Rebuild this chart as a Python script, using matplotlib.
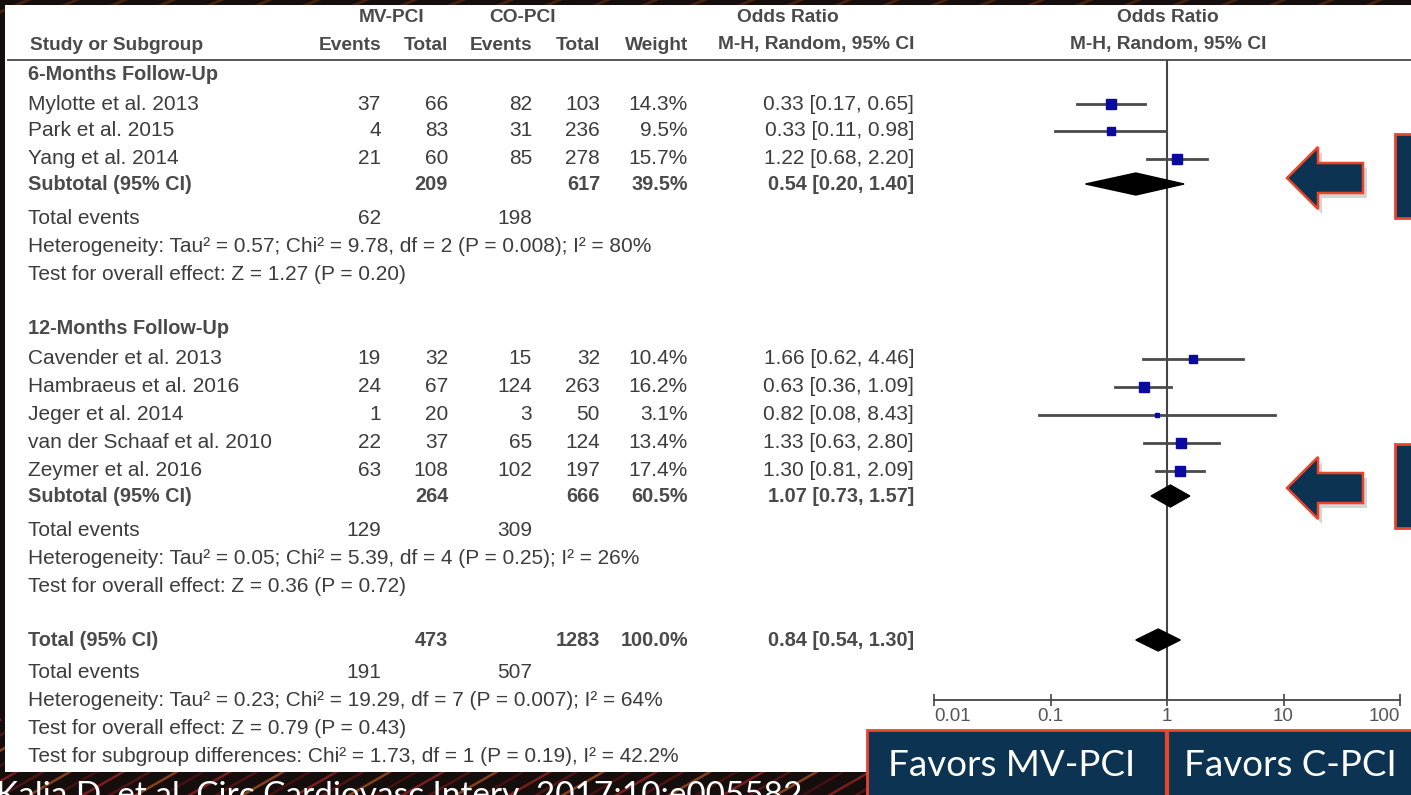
import numpy as np
import matplotlib.pyplot as plt
from matplotlib.patches import Rectangle, Polygon
from matplotlib.ticker import NullLocator

# ---- data ----
studies_6m = ["Mylotte et al. 2013", "Park et al. 2015", "Yang et al. 2014"]
mv_events_6m = [37, 4, 21]
mv_total_6m = [66, 83, 60]
co_events_6m = [82, 31, 85]
co_total_6m = [103, 236, 278]
weight_6m = [14.3, 9.5, 15.7]
or_6m = [0.33, 0.33, 1.22]
lo_6m = [0.17, 0.11, 0.68]
hi_6m = [0.65, 0.98, 2.20]

studies_12m = ["Cavender et al. 2013", "Hambraeus et al. 2016", "Jeger et al. 2014",
               "van der Schaaf et al. 2010", "Zeymer et al. 2016"]
mv_events_12m = [19, 24, 1, 22, 63]
mv_total_12m = [32, 67, 20, 37, 108]
co_events_12m = [15, 124, 3, 65, 102]
co_total_12m = [32, 263, 50, 124, 197]
weight_12m = [10.4, 16.2, 3.1, 13.4, 17.4]
or_12m = [1.66, 0.63, 0.82, 1.33, 1.30]
lo_12m = [0.62, 0.36, 0.08, 0.63, 0.81]
hi_12m = [4.46, 1.09, 8.43, 2.80, 2.09]

# pooled: (mv total, co total, weight, OR, lo, hi, mv events, co events)
pooled_6m = [209, 617, 39.5, 0.54, 0.20, 1.40, 62, 198]
pooled_12m = [264, 666, 60.5, 1.07, 0.73, 1.57, 129, 309]
pooled_all = [473, 1283, 100.0, 0.84, 0.54, 1.30, 191, 507]

notes_6m = ["Heterogeneity: Tau² = 0.57; Chi² = 9.78, df = 2 (P = 0.008); I² = 80%",
            "Test for overall effect: Z = 1.27 (P = 0.20)"]
notes_12m = ["Heterogeneity: Tau² = 0.05; Chi² = 5.39, df = 4 (P = 0.25); I² = 26%",
             "Test for overall effect: Z = 0.36 (P = 0.72)"]
notes_all = ["Heterogeneity: Tau² = 0.23; Chi² = 19.29, df = 7 (P = 0.007); I² = 64%",
             "Test for overall effect: Z = 0.79 (P = 0.43)",
             "Test for subgroup differences: Chi² = 1.73, df = 1 (P = 0.19), I² = 42.2%"]

tick_values = [0.01, 0.1, 1, 10, 100]
tick_labels = ["0.01", "0.1", "1", "10", "100"]

# ---- layout (pixels) ----
W, H = 1411, 795
row_y_6m = [75, 104, 131, 159, 184, 218, 246, 274]
row_y_12m = [329, 359, 387, 415, 443, 471, 496, 530, 558, 586]
row_y_all = [640, 672, 701, 729, 757]
col_name = 28
col_ev1, col_tot1, col_ev2, col_tot2, col_wt, col_or = 381, 448, 532, 600, 688, 914
fx0, fx1, fy0, fy1 = 934, 1400, 60, 700

TXT = '#3c3c3c'
HDR = '#4a4a4a'
NAVY = '#0c3452'
RED = '#e8452a'
FS = 15        # body rows
FS_B = 14.3    # bold subgroup / subtotal rows
FS_H = 13.8    # column headers
plt.rcParams['font.family'] = ['Liberation Sans', 'DejaVu Sans']

fig = plt.figure(figsize=(W / 100, H / 100), dpi=100)
bg = fig.add_axes([0, 0, 1, 1])
bg.set_xlim(0, W)
bg.set_ylim(H, 0)
bg.axis('off')

# dark slide background with a few streaks
bg.add_patch(Rectangle((0, 0), W, H, fc='#160d0d', ec='none', zorder=0))
for k, x0 in enumerate(np.linspace(-200, 1000, 46)):
    col = ['#8a2222', '#5a1616', '#9a4a22', '#4a1212'][k % 4]
    bg.plot([x0, x0 + 200], [H + 40, 720], color=col, lw=1.8, alpha=0.85, zorder=0.5)
for k, x0 in enumerate(np.linspace(0, 1400, 30)):
    bg.plot([x0, x0 + 40], [12, -5], color='#5a2a10', lw=2, alpha=0.7, zorder=0.5)

# white panel
bg.add_patch(Rectangle((5, 5), W - 5, 767, fc='white', ec='none', zorder=1))
bg.plot([8, W], [fy0, fy0], color='#555555', lw=1.4, zorder=2)


def txt(x, y, s, ha='right', bold=False, color=TXT, size=FS):
    bg.text(x, y, s, ha=ha, va='center', fontsize=size, color=color,
            fontweight='bold' if bold else 'normal', zorder=3)


def btxt(x, y, s, ha='right'):
    txt(x, y, s, ha=ha, bold=True, color=HDR, size=FS_B)


def htxt(x, y, s, ha='right'):
    txt(x, y, s, ha=ha, bold=True, color=HDR, size=FS_H)


# headers
htxt(392, 17, "MV-PCI", ha='center')
htxt(523, 17, "CO-PCI", ha='center')
htxt(788, 17, "Odds Ratio", ha='center')
htxt(1168, 17, "Odds Ratio", ha='center')
htxt(30, 45, "Study or Subgroup", ha='left')
for x, s in [(col_ev1, "Events"), (col_tot1, "Total"), (col_ev2, "Events"),
             (col_tot2, "Total"), (col_wt, "Weight"), (col_or, "M-H, Random, 95% CI")]:
    htxt(x, 45, s)
htxt(1168, 45, "M-H, Random, 95% CI", ha='center')


def ci_str(o, l, h):
    return f"{o:.2f} [{l:.2f}, {h:.2f}]"


def draw_pooled(label, y, p):
    btxt(col_name, y, label, ha='left')
    btxt(col_tot1, y, str(p[0]))
    btxt(col_tot2, y, str(p[1]))
    btxt(col_wt, y, f"{p[2]:.1f}%")
    btxt(col_or, y, ci_str(p[3], p[4], p[5]))
    fa.fill([p[4], p[3], p[5], p[3]], [y, y - 11, y, y + 11], color='black', zorder=4)


def draw_group(title, ys, names, ev1, tot1, ev2, tot2, wt, ors, los, his, pooled, notes):
    btxt(col_name, ys[0], title, ha='left')
    for i, name in enumerate(names):
        y = ys[i + 1]
        txt(col_name, y, name, ha='left')
        txt(col_ev1, y, str(ev1[i]))
        txt(col_tot1, y, str(tot1[i]))
        txt(col_ev2, y, str(ev2[i]))
        txt(col_tot2, y, str(tot2[i]))
        txt(col_wt, y, f"{wt[i]:.1f}%")
        txt(col_or, y, ci_str(ors[i], los[i], his[i]))
        fa.plot([los[i], his[i]], [y, y], color='#4a4a4a', lw=2, zorder=3)
        fa.plot(ors[i], y, marker='s', ms=1.8 * np.sqrt(wt[i]), color='#0a0aa0',
                mec='#0a0aa0', zorder=4)
    ys_rest = ys[len(names) + 1:]
    draw_pooled("Subtotal (95% CI)", ys_rest[0], pooled)
    y = ys_rest[1]
    txt(col_name, y, "Total events", ha='left')
    txt(col_ev1, y, str(pooled[6]))
    txt(col_ev2, y, str(pooled[7]))
    for y, s in zip(ys_rest[2:], notes):
        txt(col_name, y, s, ha='left')


# forest axes: log odds-ratio scale, y in panel pixels
fa = fig.add_axes([fx0 / W, 1 - fy1 / H, (fx1 - fx0) / W, (fy1 - fy0) / H])
fa.set_facecolor('none')
fa.set_xscale('log')
fa.set_xlim(tick_values[0], tick_values[-1])
fa.set_ylim(fy1, fy0)
for s in ['top', 'left', 'right']:
    fa.spines[s].set_visible(False)
fa.spines['bottom'].set_color('#444444')
fa.spines['bottom'].set_linewidth(1.3)
fa.set_yticks([])
fa.set_xticks(tick_values)
fa.set_xticklabels(tick_labels)
fa.xaxis.set_minor_locator(NullLocator())
fa.tick_params(axis='x', direction='inout', length=9, width=1.2, color='#444444',
               labelsize=13.5, labelcolor='#555555', pad=1)
lbls = fa.get_xticklabels()
lbls[0].set_ha('left')
lbls[-1].set_ha('right')
fa.axvline(1, color='#444444', lw=1.5, zorder=2)

draw_group("6-Months Follow-Up", row_y_6m, studies_6m, mv_events_6m, mv_total_6m,
           co_events_6m, co_total_6m, weight_6m, or_6m, lo_6m, hi_6m, pooled_6m, notes_6m)
draw_group("12-Months Follow-Up", row_y_12m, studies_12m, mv_events_12m, mv_total_12m,
           co_events_12m, co_total_12m, weight_12m, or_12m, lo_12m, hi_12m, pooled_12m, notes_12m)

draw_pooled("Total (95% CI)", row_y_all[0], pooled_all)
txt(col_name, row_y_all[1], "Total events", ha='left')
txt(col_ev1, row_y_all[1], str(pooled_all[6]))
txt(col_ev2, row_y_all[1], str(pooled_all[7]))
for y, s in zip(row_y_all[2:], notes_all):
    txt(col_name, y, s, ha='left')

# slide annotations: arrows and cut-off boxes
for tip_y in [178, 488]:
    pts = [(1287, tip_y), (1318, tip_y - 31), (1318, tip_y - 15), (1363, tip_y - 15),
           (1363, tip_y + 15), (1318, tip_y + 15), (1318, tip_y + 31)]
    bg.add_patch(Polygon([(x + 4, y + 5) for x, y in pts], closed=True, fc='#888888',
                         ec='none', alpha=0.35, zorder=4))
    bg.add_patch(Polygon(pts, closed=True, fc=NAVY, ec=RED, lw=1.8, zorder=5))
    bg.add_patch(Rectangle((1395, tip_y - 44), 40, 84, fc=NAVY, ec=RED, lw=2, zorder=5))

# favors box
bg.add_patch(Rectangle((867, 730), W - 867 + 5, 70, fc=NAVY, ec=RED, lw=2, zorder=5))
bg.plot([1167, 1167], [733, H], color=RED, lw=3, zorder=6)
bg.text(1012, 766, "Favors MV-PCI", ha='center', va='center', color='white',
        fontsize=26.5, family=['Lato', 'DejaVu Sans'], zorder=7)
bg.text(1290, 766, "Favors C-PCI", ha='center', va='center', color='white',
        fontsize=26.5, family=['Lato', 'DejaVu Sans'], zorder=7)

# citation line at the bottom edge of the slide (cut off, as on the slide)
bg.text(-4, 781, "Kalia D, et al. Circ Cardiovasc Interv. 2017;10:e005582", ha='left',
        va='top', color='white', fontsize=24, family=['Lato', 'DejaVu Sans'], zorder=3)

fig.savefig('out.png', dpi=100)
